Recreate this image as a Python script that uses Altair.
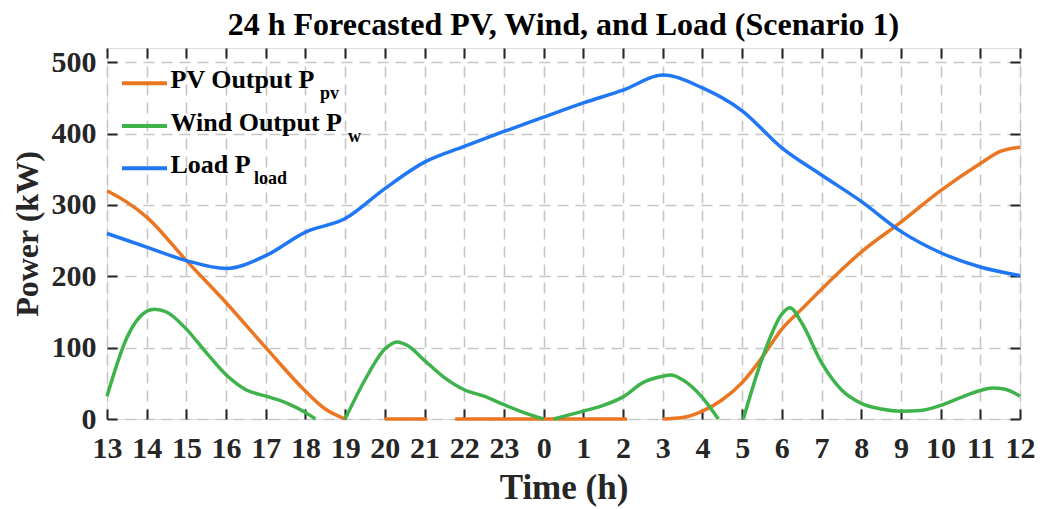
import altair as alt
import pandas as pd

# ---------------- data ----------------
hour_labels = [13, 14, 15, 16, 17, 18, 19, 20, 21, 22, 23, 0,
               1, 2, 3, 4, 5, 6, 7, 8, 9, 10, 11, 12]

load_hours = hour_labels
load_vals = [260, 241, 222, 211, 229, 262, 281, 323, 360, 382, 403, 423,
             443, 461, 482, 464, 432, 380, 342, 305, 263, 233, 213, 201]

# PV output (segments; gaps where the curve is clipped below zero)
pv_seg1_h = [13, 13.5, 14, 15, 16, 17, 18, 18.5, 19]
pv_seg1_v = [320, 304, 283, 222, 163, 100, 39, 14, 0]
pv_seg2_h = [20, 21.07]
pv_seg2_v = [0, 0]
pv_seg3_h = [21.77, 2.1]
pv_seg3_v = [0, 0]
pv_seg4_h = [3, 3.5, 4, 4.5, 5, 5.5, 6, 6.5, 7, 8, 9, 10, 11, 11.5, 12]
pv_seg4_v = [0, 2, 11, 27, 51, 86, 126, 154, 182, 234, 276, 320, 358, 375, 381]

# Wind output (segments)
wind_seg1_h = [13, 13.5, 14, 14.2, 14.5, 15, 15.5, 16, 16.5, 17, 17.5, 18, 18.25]
wind_seg1_v = [32, 114, 151, 154, 150, 126, 93, 62, 41, 32, 23, 9, 0]
wind_seg2_h = [19, 19.5, 20, 20.3, 20.6, 21, 21.5, 22, 22.5, 23, 23.5, 0]
wind_seg2_v = [0, 55, 98, 108, 102, 82, 58, 41, 32, 20, 9, 0]
wind_seg3_h = [0.25, 1, 1.5, 2, 2.5, 3, 3.2, 3.5, 4, 4.4]
wind_seg3_v = [0, 11, 19, 31, 51, 60, 61.5, 55, 30, 0]
wind_seg4_h = [5.03, 5.5, 6, 6.2, 6.5, 7, 7.5, 8, 8.5, 9, 9.5, 10, 10.5, 11, 11.3, 11.6, 12]
wind_seg4_v = [0, 84, 147, 156, 135, 79, 41, 22, 14, 11, 12, 19, 30, 40, 43.5, 42, 32]

y_ticks = [0, 100, 200, 300, 400, 500]

legend_labels = ["PV Output P", "Wind Output P", "Load P"]
legend_subs = ["pv", "w", "load"]

# ---------------- styling ----------------
ORANGE = "#EA7622"
GREEN = "#3FB34B"
BLUE = "#1F77F5"
DARK = "#262626"
FONT = "Liberation Serif"


def to_t(h):
    return (h - 13) % 24


def seg_frame(segs):
    rows = []
    for k, (hs, vs) in enumerate(segs):
        for h, v in zip(hs, vs):
            rows.append({"seg": k, "t": to_t(h), "v": v})
    return pd.DataFrame(rows)


df_pv = seg_frame([(pv_seg1_h, pv_seg1_v), (pv_seg2_h, pv_seg2_v),
                   (pv_seg3_h, pv_seg3_v), (pv_seg4_h, pv_seg4_v)])
df_wind = seg_frame([(wind_seg1_h, wind_seg1_v), (wind_seg2_h, wind_seg2_v),
                     (wind_seg3_h, wind_seg3_v), (wind_seg4_h, wind_seg4_v)])
df_load = seg_frame([(load_hours, load_vals)])

x_scale = alt.Scale(domain=[0, 23], nice=False, zero=False)
y_scale = alt.Scale(domain=[0, 520], nice=False, zero=False)

tick_vals = [to_t(h) for h in hour_labels]

x_axis = alt.Axis(
    values=tick_vals, labelExpr="(datum.value + 13) % 24",
    domain=False, offset=-10, tickSize=10, tickWidth=2, tickColor=DARK,
    labelFont=FONT, labelFontSize=30, labelFontWeight="bold", labelColor=DARK,
    labelPadding=14, labelFlush=False, labelOverlap=False,
    title="Time (h)", titleFont=FONT, titleFontSize=35, titleFontWeight="bold",
    titleColor=DARK, titlePadding=7,
    grid=True, gridDash=[11, 7], gridColor="#c6c6c6", gridWidth=1.6,
)
y_axis = alt.Axis(
    values=y_ticks, domain=False, offset=-10, tickSize=10, tickWidth=2, tickColor=DARK,
    labelFont=FONT, labelFontSize=30, labelFontWeight="bold", labelColor=DARK,
    labelPadding=11, labelFlush=False, labelOverlap=False,
    title="Power (kW)", titleFont=FONT, titleFontSize=32, titleFontWeight="bold",
    titleColor=DARK, titlePadding=7,
    grid=True, gridDash=[11, 7], gridColor="#c6c6c6", gridWidth=1.6,
)
x_axis_top = alt.Axis(values=tick_vals, orient="top", domain=False, offset=-10, tickSize=10,
                      tickWidth=2, tickColor=DARK, labels=False, grid=False, title=None)
y_axis_right = alt.Axis(values=y_ticks, orient="right", domain=False, offset=-10, tickSize=10,
                        tickWidth=2, tickColor=DARK, labels=False, grid=False, title=None)


def line_layer(df, color, xa=None, ya=None, opacity=1.0):
    return alt.Chart(df).mark_line(interpolate="monotone", strokeWidth=3.5, color=color,
                                   opacity=opacity).encode(
        x=alt.X("t:Q", scale=x_scale, axis=xa),
        y=alt.Y("v:Q", scale=y_scale, axis=ya),
        detail="seg:N",
    )


pv_layer = line_layer(df_pv, ORANGE, x_axis, y_axis)
wind_layer = line_layer(df_wind, GREEN)
load_layer = line_layer(df_load, BLUE)
frame_layer = line_layer(df_load, BLUE, x_axis_top, y_axis_right, opacity=0)

# ---------------- custom legend (with subscripts) ----------------
legend_layers = []
colors = [ORANGE, GREEN, BLUE]
row_y = [35.3, 78.0, 120.3]
sub_x = [213, 241, 147]
one = pd.DataFrame({"k": [0]})
for i in range(3):
    ly = row_y[i]
    legend_layers.append(
        alt.Chart(one).mark_rule(color=colors[i], strokeWidth=4).encode(
            x=alt.value(15), x2=alt.value(60), y=alt.value(ly))
    )
    legend_layers.append(
        alt.Chart(pd.DataFrame({"lab": [legend_labels[i]]})).mark_text(
            font=FONT, fontSize=26, fontWeight="bold", color="black",
            align="left", baseline="alphabetic").encode(
            text="lab:N", x=alt.value(63.5), y=alt.value(ly + 4.5))
    )
    legend_layers.append(
        alt.Chart(pd.DataFrame({"lab": [legend_subs[i]]})).mark_text(
            font=FONT, fontSize=18, fontWeight="bold", color="black",
            align="left", baseline="alphabetic").encode(
            text="lab:N", x=alt.value(sub_x[i]), y=alt.value(ly + 16))
    )

chart = alt.layer(pv_layer, wind_layer, load_layer, frame_layer, *legend_layers).resolve_axis(
    x="independent", y="independent"
).properties(
    width=913, height=371,
    title=alt.TitleParams(
        text="24 h Forecasted PV, Wind, and Load (Scenario 1)",
        font=FONT, fontSize=32, fontWeight="bold", color="black",
        anchor="middle", baseline="alphabetic", offset=13, dy=33,
    ),
    autosize=alt.AutoSizeParams(type="none"),
    padding={"left": 107, "top": 48, "right": 20, "bottom": 90},
).configure_view(stroke=DARK, strokeWidth=2).configure(background="white")

chart.save("out.html", embed_options={"renderer": "svg", "actions": False})
